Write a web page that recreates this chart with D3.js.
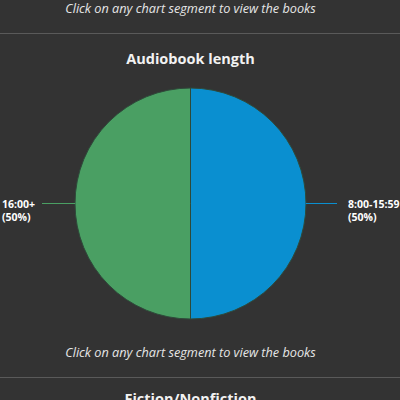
<!DOCTYPE html>
<html>
<head>
<meta charset="utf-8">
<script src="https://cdn.jsdelivr.net/npm/d3@7"></script>
<style>
  body { margin: 0; background: #333333; overflow: hidden; }
  svg { display: block; font-family: "Open Sans", sans-serif; }
</style>
</head>
<body>
<svg id="canvas"></svg>
<script>
// chart values
const categories = ["8:00-15:59", "16:00+"];
const values = [50, 50];
const colors = ["#0a8fd0", "#4a9f63"];

const hint = "Click on any chart segment to view the books";
const title = "Audiobook length";
const nextTitle = "Fiction/Nonfiction";

const width = 400,
  height = 400,
  cx = 190.5,
  cy = 203.5,
  radius = 115.5;

const svg = d3.select("#canvas").attr("width", width).attr("height", height);

// previous section footer
svg.append("text")
  .attr("x", cx).attr("y", 13)
  .attr("text-anchor", "middle")
  .attr("font-style", "italic")
  .attr("font-size", 12.7)
  .attr("fill", "#e6e6e6")
  .text(hint);

svg.append("line")
  .attr("x1", 0).attr("x2", width)
  .attr("y1", 33.5).attr("y2", 33.5)
  .attr("stroke", "#5a5a5a");

svg.append("text")
  .attr("x", cx).attr("y", 64)
  .attr("text-anchor", "middle")
  .attr("font-weight", 700)
  .attr("font-size", 14.5)
  .attr("fill", "#f2f2f2")
  .text(title);

const pie = d3.pie().sort(null).value(d => d)(values);
const arc = d3.arc().innerRadius(0).outerRadius(radius);

const g = svg.append("g").attr("transform", `translate(${cx},${cy})`);

g.selectAll("path")
  .data(pie)
  .join("path")
  .attr("d", arc)
  .attr("fill", (d, i) => colors[i])
  .attr("stroke", "#2e4a3a")
  .attr("stroke-width", 1);

// outside labels with leader lines
pie.forEach((d, i) => {
  const mid = (d.startAngle + d.endAngle) / 2;
  const right = Math.sin(mid) >= 0;
  const sx = Math.sin(mid) * radius;
  const sy = -Math.cos(mid) * radius;
  const ex = sx + (right ? 31 : -33);

  g.append("line")
    .attr("x1", sx).attr("y1", sy)
    .attr("x2", ex).attr("y2", sy)
    .attr("stroke", colors[i])
    .attr("stroke-width", 1);

  const pct = Math.round(values[i] / d3.sum(values) * 100);
  const lab = g.append("text")
    .attr("font-weight", 700)
    .attr("font-size", 10.5)
    .attr("fill", "#ffffff");
  lab.append("tspan").attr("dy", 4).text(categories[i]);
  lab.append("tspan").attr("dy", 13.5).text(`(${pct}%)`);

  let tx = ex + 11;
  if (!right) {
    const w = d3.max(lab.selectAll("tspan").nodes(), n => n.getComputedTextLength());
    tx = ex - 7 - w;
  }
  lab.attr("y", sy).selectAll("tspan").attr("x", tx);
});

svg.append("text")
  .attr("x", cx).attr("y", 357)
  .attr("text-anchor", "middle")
  .attr("font-style", "italic")
  .attr("font-size", 12.7)
  .attr("fill", "#e6e6e6")
  .text(hint);

svg.append("line")
  .attr("x1", 0).attr("x2", width)
  .attr("y1", 377.5).attr("y2", 377.5)
  .attr("stroke", "#5a5a5a");

svg.append("text")
  .attr("x", cx).attr("y", 404)
  .attr("text-anchor", "middle")
  .attr("font-weight", 700)
  .attr("font-size", 14.5)
  .attr("fill", "#f2f2f2")
  .text(nextTitle);
</script>
</body>
</html>
